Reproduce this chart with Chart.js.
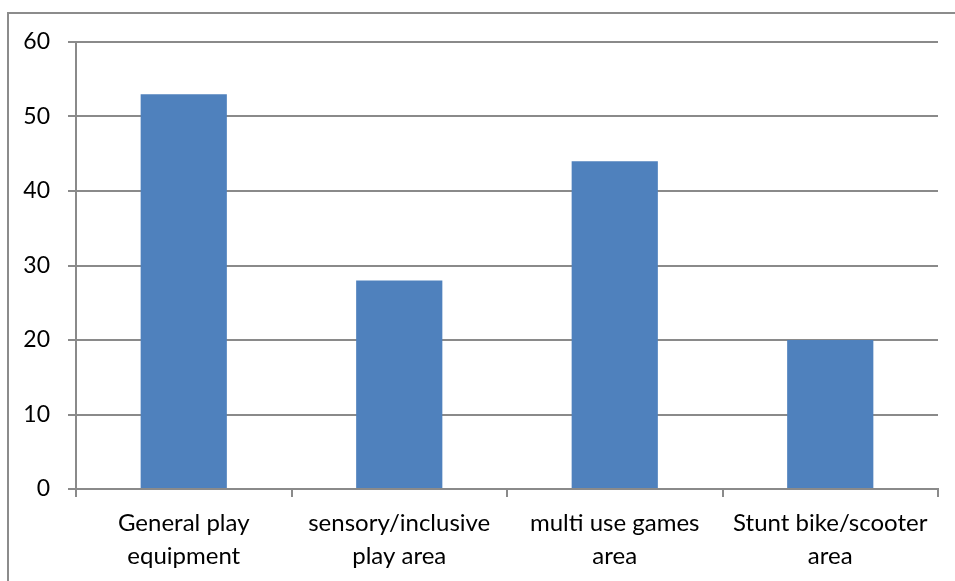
<!DOCTYPE html>
<html>
<head>
<meta charset="utf-8">
<script src="https://cdn.jsdelivr.net/npm/chart.js@4"></script>
<style>
  html, body { margin: 0; padding: 0; background: #fff; }
  #wrap { position: relative; width: 955px; height: 581px; overflow: hidden; }
  #frame { position: absolute; left: 7px; top: 12px; width: 960px; height: 580px;
           border-left: 2px solid #8c8c8c; border-top: 2px solid #8c8c8c; box-sizing: border-box; }
  canvas { position: absolute; left: 0; top: 0; }
</style>
</head>
<body>
<div id="wrap">
  <div id="frame"></div>
  <canvas id="myChart" width="955" height="581"></canvas>
</div>
<script>
// Categories and values
let labels = [
    ['General play', 'equipment'],
    ['sensory/inclusive', 'play area'],
    ['multi use games', 'area'],
    ['Stunt bike/scooter', 'area']
];
let values = [53, 28, 44, 20];
let yTicks = [0, 10, 20, 30, 40, 50, 60];

const GREY = '#8a8a8a';
const FAMILY = 'Lato, "Open Sans", sans-serif';

let ctx = document.getElementById("myChart").getContext("2d");

let chart = new Chart(ctx, {
    type: 'bar',
    data: {
        labels: labels,
        datasets: [{
            data: values,
            backgroundColor: '#4f81bd',
            borderWidth: 0,
            categoryPercentage: 0.4,
            barPercentage: 1,
        }]
    },
    options: {
        responsive: false,
        animation: false,
        layout: { padding: { top: 42, right: 17, left: 0, bottom: 0 } },
        plugins: { legend: { display: false }, tooltip: { enabled: false } },
        scales: {
            x: {
                grid: {
                    offset: true,
                    drawOnChartArea: false,
                    drawTicks: true,
                    tickLength: 8,
                    color: GREY,
                    lineWidth: 2,
                },
                border: { color: GREY, width: 2 },
                ticks: { color: '#000', font: { family: FAMILY, size: 24, lineHeight: 1.36 }, padding: 10, maxRotation: 0, autoSkip: false },
                afterFit: s => { s.height = 92; }
            },
            y: {
                min: 0,
                max: 60,
                afterBuildTicks: s => { s.ticks = yTicks.map(v => ({ value: v })); },
                grid: { color: GREY, lineWidth: 2, tickLength: 8 },
                border: { color: GREY, width: 2 },
                ticks: { color: '#000', font: { family: FAMILY, size: 23 }, padding: 18 },
                afterFit: s => { s.width = 76; }
            }
        }
    }
});
</script>
</body>
</html>
